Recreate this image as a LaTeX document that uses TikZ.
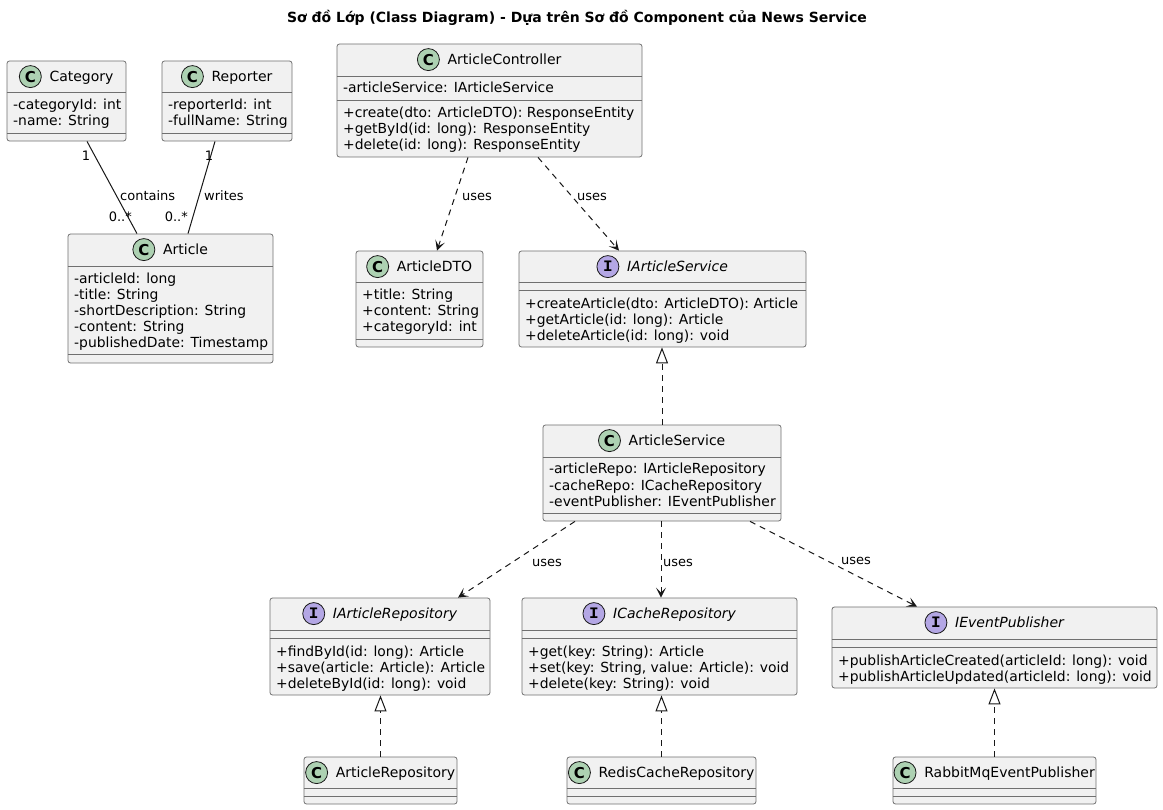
\documentclass[tikz,border=0pt]{standalone}
\usepackage{fontspec}
\setmainfont{DejaVu Sans}
\newfontfamily\iconserif{Liberation Mono}
\usetikzlibrary{arrows.meta,fit,calc}

\definecolor{boxfill}{HTML}{F1F1F1}
\definecolor{boxline}{HTML}{707070}
\definecolor{ink}{HTML}{181818}
\definecolor{clsicon}{HTML}{ADD1B2}
\definecolor{ifcicon}{HTML}{B4A7E5}

\tikzset{
  box/.style={draw=boxline, fill=boxfill, line width=0.8pt, rounded corners=2.5pt, inner sep=0pt},
  sep/.style={draw=boxline, line width=0.8pt},
  mem/.style={anchor=base west, inner sep=0pt, font=\fontsize{13.9}{16}\selectfont},
  ttl/.style={anchor=base, inner sep=0pt, font=\fontsize{14}{16}\selectfont},
  ittl/.style={anchor=base, inner sep=0pt, font=\fontsize{14}{16}\selectfont\itshape},
  cicon/.style={circle, draw=ink, line width=0.8pt, fill=clsicon, minimum size=22pt, inner sep=0pt,
    font=\fontsize{15}{15}\selectfont\bfseries},
  iicon/.style={circle, draw=ink, line width=0.8pt, fill=ifcicon, minimum size=22pt, inner sep=0pt,
    font=\fontsize{16}{16}\selectfont\iconserif\bfseries},
  lbl/.style={inner sep=0pt, text height=9.5pt, text depth=2.5pt, font=\fontsize{13}{15}\selectfont},
  assoc/.style={draw=ink, line width=1pt},
  uses/.style={draw=ink, line width=1pt, dash pattern=on 6pt off 5pt,
    -{Stealth[length=10pt,width=10pt,inset=5pt]}},
  realize/.style={draw=ink, line width=1pt, dash pattern=on 6pt off 5pt,
    -{Triangle[open,length=16pt,width=12pt,fill=white]}},
}

% header of a class box: name centred (shifted right for the icon), icon to its left
\newcommand\classhead[5]{%
  \node[#4] (#1-name) at ($(#1.north)+(15,21)$) {#5};
  \node[#2] (#1-icon) at ($(#1-name.base west)+(-19,-5)$) {#3};
}
% horizontal compartment separator of a class box at height #2
\newcommand\compsep[2]{%
  \draw[sep] (#1.west |- 0,#2) -- (#1.east |- 0,#2);
}

\begin{document}
\begin{tikzpicture}[x=1pt,y=-1pt]
\useasboundingbox (0,0) rectangle (1163,810);
\fill[white] (0,0) rectangle (1163,810);

\node[font=\fontsize{14}{16}\selectfont\bfseries] (title) at (577,18)
  {Sơ đồ Lớp (Class Diagram) - Dựa trên Sơ đồ Component của News Service};

% ---------- Category ----------
\node[box, fit={(7,61) (126,141)}] (cat) {};
\classhead{cat}{cicon}{C}{ttl}{Category}
\compsep{cat}{92}
\node[mem] (cat-a1) at (13,110) {-categoryId: int};
\node[mem] (cat-a2) at (13,126) {-name: String};
\compsep{cat}{133}

% ---------- Reporter ----------
\node[box, fit={(162,61) (292,141)}] (rep) {};
\classhead{rep}{cicon}{C}{ttl}{Reporter}
\compsep{rep}{92}
\node[mem] (rep-a1) at (168,110) {-reporterId: int};
\node[mem] (rep-a2) at (168,126) {-fullName: String};
\compsep{rep}{133}

% ---------- Article ----------
\node[box, fit={(68,234) (273,363)}] (art) {};
\classhead{art}{cicon}{C}{ttl}{Article}
\compsep{art}{266}
\node[mem] (art-a1) at (74,284) {-articleId: long};
\node[mem] (art-a2) at (74,300) {-title: String};
\node[mem] (art-a3) at (74,316) {-shortDescription: String};
\node[mem] (art-a4) at (74,332) {-content: String};
\node[mem] (art-a5) at (74,348) {-publishedDate: Timestamp};
\compsep{art}{354}

% ---------- ArticleController ----------
\node[box, fit={(337,44) (642,157)}] (ctrl) {};
\classhead{ctrl}{cicon}{C}{ttl}{ArticleController}
\compsep{ctrl}{76}
\node[mem] (ctrl-a1) at (343,93) {-articleService: IArticleService};
\compsep{ctrl}{100}
\node[mem] (ctrl-m1) at (343,118) {+create(dto: ArticleDTO): ResponseEntity};
\node[mem] (ctrl-m2) at (343,134) {+getById(id: long): ResponseEntity};
\node[mem] (ctrl-m3) at (343,150) {+delete(id: long): ResponseEntity};

% ---------- ArticleDTO ----------
\node[box, fit={(356,251) (483,347)}] (dto) {};
\classhead{dto}{cicon}{C}{ttl}{ArticleDTO}
\compsep{dto}{282}
\node[mem] (dto-a1) at (362,300) {+title: String};
\node[mem] (dto-a2) at (362,316) {+content: String};
\node[mem] (dto-a3) at (362,332) {+categoryId: int};
\compsep{dto}{339}

% ---------- IArticleService ----------
\node[box, fit={(519,251) (806,347)}] (isvc) {};
\classhead{isvc}{iicon}{I}{ittl}{IArticleService}
\compsep{isvc}{282}
\compsep{isvc}{290}
\node[mem] (isvc-m1) at (525,309) {+createArticle(dto: ArticleDTO): Article};
\node[mem] (isvc-m2) at (525,325) {+getArticle(id: long): Article};
\node[mem] (isvc-m3) at (525,341) {+deleteArticle(id: long): void};

% ---------- ArticleService ----------
\node[box, fit={(543,425) (781,521)}] (svc) {};
\classhead{svc}{cicon}{C}{ttl}{ArticleService}
\compsep{svc}{457}
\node[mem] (svc-a1) at (549,474) {-articleRepo: IArticleRepository};
\node[mem] (svc-a2) at (549,490) {-cacheRepo: ICacheRepository};
\node[mem] (svc-a3) at (549,506) {-eventPublisher: IEventPublisher};
\compsep{svc}{513}

% ---------- IArticleRepository ----------
\node[box, fit={(270,598) (490,695)}] (irepo) {};
\classhead{irepo}{iicon}{I}{ittl}{IArticleRepository}
\compsep{irepo}{630}
\compsep{irepo}{638}
\node[mem] (irepo-m1) at (276,656) {+findById(id: long): Article};
\node[mem] (irepo-m2) at (276,672) {+save(article: Article): Article};
\node[mem] (irepo-m3) at (276,688) {+deleteById(id: long): void};

% ---------- ICacheRepository ----------
\node[box, fit={(522,598) (797,695)}] (icache) {};
\classhead{icache}{iicon}{I}{ittl}{ICacheRepository}
\compsep{icache}{630}
\compsep{icache}{638}
\node[mem] (icache-m1) at (528,656) {+get(key: String): Article};
\node[mem] (icache-m2) at (528,672) {+set(key: String, value: Article): void};
\node[mem] (icache-m3) at (528,688) {+delete(key: String): void};

% ---------- IEventPublisher ----------
\node[box, fit={(832,607) (1157,688)}] (ievt) {};
\classhead{ievt}{iicon}{I}{ittl}{IEventPublisher}
\compsep{ievt}{639}
\compsep{ievt}{647}
\node[mem] (ievt-m1) at (838,665) {+publishArticleCreated(articleId: long): void};
\node[mem] (ievt-m2) at (838,681) {+publishArticleUpdated(articleId: long): void};

% ---------- implementations ----------
\node[box, fit={(304,757) (457,804)}] (repo) {};
\classhead{repo}{cicon}{C}{ttl}{ArticleRepository}
\compsep{repo}{788}
\compsep{repo}{796}

\node[box, fit={(567,757) (756,804)}] (redis) {};
\classhead{redis}{cicon}{C}{ttl}{RedisCacheRepository}
\compsep{redis}{788}
\compsep{redis}{796}

\node[box, fit={(893,757) (1096,804)}] (rabbit) {};
\classhead{rabbit}{cicon}{C}{ttl}{RabbitMqEventPublisher}
\compsep{rabbit}{788}
\compsep{rabbit}{796}

% ---------- associations ----------
\draw[assoc] ([xshift=20.5pt]cat.south) -- ([xshift=-33.5pt]art.north);
\draw[assoc] ([xshift=-12pt]rep.south) -- ([xshift=17.5pt]art.north);
\node[lbl, anchor=center] (m-cat1) at (86,157) {1};
\node[lbl, anchor=east] (m-cat2) at (132,218) {0..*};
\node[lbl, anchor=west] (l-contains) at (120,197) {contains};
\node[lbl, anchor=center] (m-rep1) at (209,157) {1};
\node[lbl, anchor=east] (m-rep2) at (188,218) {0..*};
\node[lbl, anchor=west] (l-writes) at (204,197) {writes};

% ---------- dependencies ----------
\draw[uses] ([xshift=-21.5pt]ctrl.south) -- ([xshift=17.5pt]dto.north);
\draw[uses] ([xshift=48.5pt]ctrl.south) -- ([xshift=-43.5pt]isvc.north);
\node[lbl, anchor=west] (l-uses1) at (462,197) {uses};
\node[lbl, anchor=west] (l-uses2) at (577,197) {uses};

\draw[uses] ([xshift=-87pt]svc.south) -- ([xshift=78pt]irepo.north);
\draw[uses] ([xshift=-1pt]svc.south) -- ([xshift=-1pt]svc.south |- icache.north);
\draw[uses] ([xshift=88pt]svc.south) -- ([xshift=-77.5pt]ievt.north);
\node[lbl, anchor=west] (l-uses3) at (532,563) {uses};
\node[lbl, anchor=west] (l-uses4) at (663,563) {uses};
\node[lbl, anchor=west] (l-uses5) at (841,561) {uses};

% ---------- realizations ----------
\draw[realize] (svc.north) -- (svc.north |- isvc.south);
\draw[realize] (repo.north) -- (repo.north |- irepo.south);
\draw[realize] (redis.north) -- (redis.north |- icache.south);
\draw[realize] (rabbit.north) -- (rabbit.north |- ievt.south);
\end{tikzpicture}
\end{document}
